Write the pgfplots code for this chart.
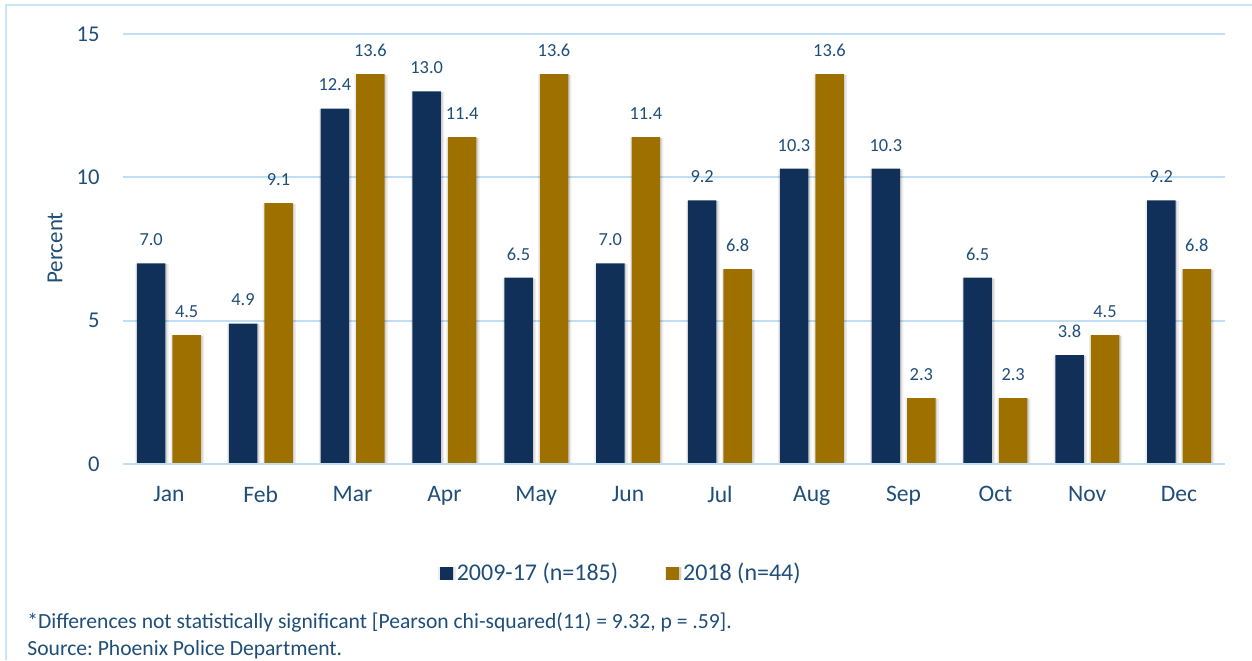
\documentclass[border=0pt]{standalone}
\usepackage{pgfplots}
\pgfplotsset{compat=1.18}
\usepackage{fontspec}
\setmainfont{Carlito}
\usetikzlibrary{shadows}
\frenchspacing
\definecolor{navy}{HTML}{10305A}
\definecolor{gold}{HTML}{9E7000}
\definecolor{txt}{HTML}{1F4E79}
\definecolor{gridc}{HTML}{BFDFF5}
\definecolor{framec}{HTML}{C9E3F7}
\tikzset{barshadow/.style={
  drop shadow={shadow xshift=1.6pt, shadow yshift=-0.4pt, fill=black, opacity=0.07},
  drop shadow={shadow xshift=0.8pt, shadow yshift=-0.3pt, fill=black, opacity=0.12},
  drop shadow={shadow xshift=-0.8pt, shadow yshift=-0.3pt, fill=black, opacity=0.07}}}
\begin{document}
\begin{tikzpicture}
\begin{axis}[
  at={(61.5pt,98pt)}, anchor=south west,
  scale only axis, width=551pt, height=215pt,
  xmin=-0.5, xmax=11.5, ymin=0, ymax=15,
  ybar=3.5pt, bar width=14.25pt,
  xtick={0,...,11},
  xticklabels={Jan,Feb,Mar,Apr,May,Jun,Jul,Aug,Sep,Oct,Nov,Dec},
  ytick={0,5,10,15},
  ymajorgrids, grid style={gridc, line width=1pt},
  axis line style={draw=none},
  major tick length=0pt, tick style={draw=none},
  /pgf/number format/assume math mode=true,
  yticklabel style={font=\fontsize{11.3}{13}\selectfont, text=txt, inner sep=0pt, xshift=-11.5pt},
  xticklabel style={font=\fontsize{11.8}{14}\selectfont, text=txt, inner sep=0pt, yshift=-11pt},
  nodes near coords={\pgfmathprintnumber[fixed,fixed zerofill,precision=1,assume math mode=true]{\pgfplotspointmeta}},
  every node near coord/.append style={font=\fontsize{9.2}{11}\selectfont, text=txt, inner sep=0pt, yshift=8.5pt, anchor=south},
  legend columns=2,
  legend style={at={(0.453,-0.2535)}, anchor=center, draw=none, fill=none,
    font=\fontsize{12}{14}\selectfont, text=txt,
    /tikz/every even column/.append style={column sep=22pt}},
  legend image code/.code={\fill[#1] (0pt,-3.25pt) rectangle (6.5pt,3.25pt);},
]
\addplot[fill=navy, draw=none, barshadow] coordinates {
(0,7.0) (1,4.9) (2,12.4) (3,13.0) (4,6.5) (5,7.0) (6,9.2) (7,10.3) (8,10.3) (9,6.5) (10,3.8) (11,9.2)};
\addplot[fill=gold, draw=none, barshadow] coordinates {
(0,4.5) (1,9.1) (2,13.6) (3,11.4) (4,13.6) (5,11.4) (6,6.8) (7,13.6) (8,2.3) (9,2.3) (10,4.5) (11,6.8)};
\legend{2009-17 (n=185), 2018 (n=44)}
\draw[gridc, line width=1.4pt] (axis cs:-0.5,0) -- (axis cs:11.5,0);
\end{axis}
\node[rotate=90, font=\fontsize{11.5}{13}\selectfont, text=txt] at (27.5pt,206pt) {Percent};
\node[anchor=base west, inner sep=0pt, font=\fontsize{10.8}{13}\selectfont, text=txt] at (13.5pt,16pt) {*Differences not statistically significant [Pearson chi-squared(11) = 9.32, p = .59].};
\node[anchor=base west, inner sep=0pt, font=\fontsize{10.8}{13}\selectfont, text=txt] at (13.5pt,2.5pt) {Source: Phoenix Police Department.};
\draw[framec, line width=0.8pt] (3pt,0pt) -- (3pt,327.5pt) -- (626pt,327.5pt);
\pgfresetboundingbox
\path (0pt,0pt) rectangle (626pt,330pt);
\end{tikzpicture}
\end{document}
